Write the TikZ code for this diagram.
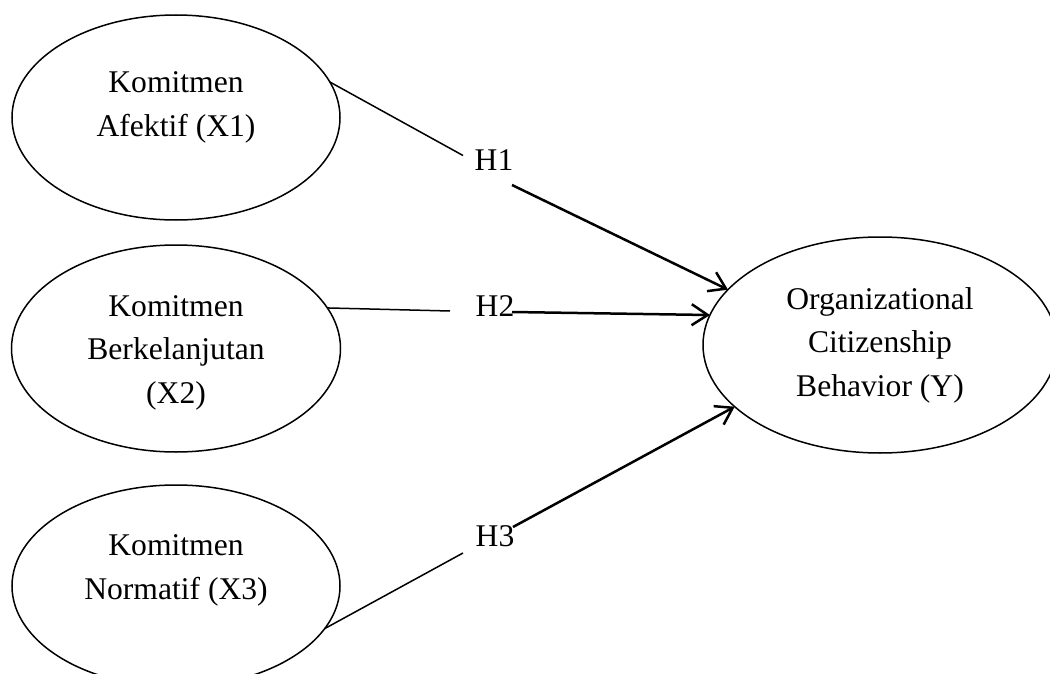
\documentclass[tikz,border=0pt]{standalone}
\usepackage{fontspec}
\setmainfont{Liberation Serif}
\usetikzlibrary{shapes.geometric,arrows.meta}
\begin{document}
\begin{tikzpicture}[x=1pt,y=-1pt,
  oval/.style={ellipse, draw, line width=1.5pt, inner sep=0pt, outer sep=0pt},
  lbl/.style={font=\fontsize{31.6}{43.5}\selectfont, align=center, inner sep=0pt},
  hyp/.style={font=\fontsize{31.6}{43.5}\selectfont, inner sep=0pt},
  thinlink/.style={line width=1.5pt},
  arrowlink/.style={line width=2.5pt, -{Straight Barb[length=16pt,width=21pt]}}]
\useasboundingbox (0,0) rectangle (1050,674);
\node[oval, minimum width=328pt, minimum height=205pt,
  label={[lbl, yshift=10pt]center:Komitmen\\Afektif (X1)}] (x1) at (176,117.5) {};
\node[oval, minimum width=329pt, minimum height=207pt,
  label={[lbl, yshift=-4pt]center:Komitmen\\Berkelanjutan\\(X2)}] (x2) at (176,348.5) {};
\node[oval, minimum width=328pt, minimum height=202pt,
  label={[lbl, yshift=15.5pt]center:Komitmen\\Normatif (X3)}] (x3) at (176,586) {};
\node[oval, minimum width=354pt, minimum height=216pt,
  label={[lbl]center:Organizational\\Citizenship\\Behavior (Y)}] (y) at (880,345) {};
\node[hyp] (h1) at (494,160.5) {H1};
\node[hyp] (h2) at (495,306.5) {H2};
\node[hyp] (h3) at (495,536.5) {H3};
\draw[thinlink] (x1.13) -- ([shift={(-31,-5)}]h1.center);
\draw[arrowlink] ([shift={(18,24.5)}]h1.center) -- (y.160);
\draw[thinlink] (x2.15) -- ([shift={(-45,4.5)}]h2.center);
\draw[arrowlink] ([shift={(17,5.5)}]h2.center) -- (y.170);
\draw[thinlink] (x3.-16) -- ([shift={(-32,16.5)}]h3.center);
\draw[arrowlink] ([shift={(18,-9.5)}]h3.center) -- (y.-157.5);
\end{tikzpicture}
\end{document}
